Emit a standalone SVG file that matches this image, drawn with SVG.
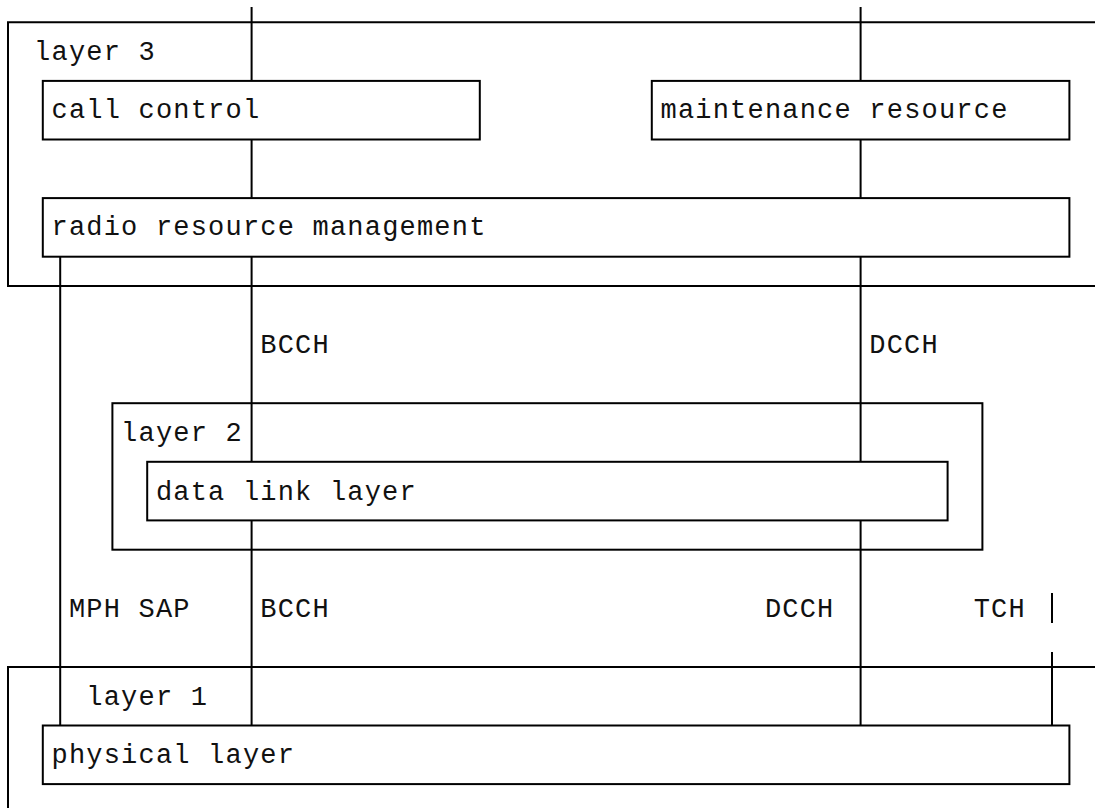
<svg xmlns="http://www.w3.org/2000/svg" width="1095" height="808" viewBox="0 0 1095 808">
<style>
.ln{fill:none;stroke:#000;stroke-width:2;stroke-linecap:butt;stroke-linejoin:miter}
.bx{fill:#fff;stroke:#000;stroke-width:2}
text{font-family:"Liberation Mono","Courier New",monospace;font-size:27px;letter-spacing:1.2px;fill:#111}
</style>
<rect width="1095" height="808" fill="#fff"/>
<g id="layer3">
<path class="ln" d="M1100,22.3 H8 V286 H1100"/>
<text x="34.1" y="60">layer 3</text>
</g>
<g id="layer2">
<rect class="ln" x="112.4" y="403.2" width="870" height="146.5"/>
<text x="121.1" y="441">layer 2</text>
</g>
<g id="layer1">
<path class="ln" d="M1100,666.9 H8 V810"/>
<text x="86.3" y="704.5">layer 1</text>
</g>
<g id="connectors">
<path class="ln" d="M251.6,7 V80.9 M251.6,139.5 V198.1 M251.6,256.7 V461.8 M251.6,520.4 V725.5"/>
<path class="ln" d="M860.6,7 V80.9 M860.6,139.5 V198.1 M860.6,256.7 V461.8 M860.6,520.4 V725.5"/>
<path class="ln" d="M60.2,256.7 V725.5"/>
<path class="ln" d="M1052,593 V623 M1052,652 V725.5"/>
<text x="260.3" y="353">BCCH</text>
<text x="869.3" y="353">DCCH</text>
<text x="68.9" y="616.5">MPH SAP</text>
<text x="260.3" y="616.5">BCCH</text>
<text x="764.9" y="616.5">DCCH</text>
<text x="973.7" y="616.5">TCH</text>
</g>
<g id="call-control">
<rect class="bx" x="42.8" y="80.9" width="437" height="58.6"/>
<text x="51.5" y="118">call control</text>
</g>
<g id="maintenance-resource">
<rect class="bx" x="651.8" y="80.9" width="417.6" height="58.6"/>
<text x="660.5" y="118">maintenance resource</text>
</g>
<g id="radio-resource-management">
<rect class="bx" x="42.8" y="198.1" width="1026.6" height="58.6"/>
<text x="51.5" y="235">radio resource management</text>
</g>
<g id="data-link-layer">
<rect class="bx" x="147.2" y="461.8" width="800.4" height="58.6"/>
<text x="155.9" y="499.5">data link layer</text>
</g>
<g id="physical-layer">
<rect class="bx" x="42.8" y="725.5" width="1026.6" height="58.6"/>
<text x="51.5" y="763">physical layer</text>
</g>
</svg>
